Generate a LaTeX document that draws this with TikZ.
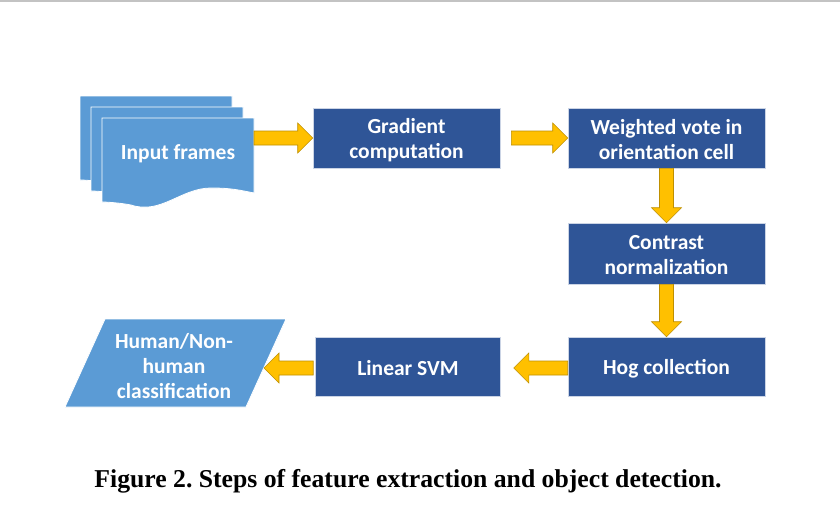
\documentclass[tikz,border=0pt]{standalone}
\usepackage{fontspec}
\setmainfont{Liberation Serif}
\newfontfamily\boxfont{Carlito}
\usetikzlibrary{calc}
\frenchspacing
\definecolor{darkbox}{HTML}{2F5597}
\definecolor{lightbox}{HTML}{5B9BD5}
\definecolor{arrowfill}{HTML}{FFC000}
\definecolor{arrowline}{HTML}{BF9000}
\definecolor{topline}{HTML}{C3C3C3}
\tikzset{
  procbox/.style={draw=white!75!darkbox, line width=0.6pt, fill=darkbox, inner sep=0pt},
  boxtext/.style={text=white, font=\boxfont\fontsize{21.5}{25}\selectfont\bfseries, align=center, inner sep=0pt},
  lightshape/.style={fill=lightbox, draw=white, line width=0.8pt},
  barrow/.style={fill=arrowfill, draw=arrowline, line width=0.6pt, line join=miter},
}
\newcommand\arrowright[2]{\draw[barrow] let \p1=(#1), \p2=(#2) in
  (\x1,\y1+7pt) -- (\x2-15pt,\y1+7pt) -- (\x2-15pt,\y1+15pt) -- (\x2,\y1) --
  (\x2-15pt,\y1-15pt) -- (\x2-15pt,\y1-7pt) -- (\x1,\y1-7pt) -- cycle;}
\newcommand\arrowleft[2]{\draw[barrow] let \p1=(#1), \p2=(#2) in
  (\x1,\y1+7pt) -- (\x2+15pt,\y1+7pt) -- (\x2+15pt,\y1+15pt) -- (\x2,\y1) --
  (\x2+15pt,\y1-15pt) -- (\x2+15pt,\y1-7pt) -- (\x1,\y1-7pt) -- cycle;}
\newcommand\arrowdown[2]{\draw[barrow] let \p1=(#1), \p2=(#2) in
  (\x1-7pt,\y1) -- (\x1-7pt,\y2+15pt) -- (\x1-15pt,\y2+15pt) -- (\x1,\y2) --
  (\x1+15pt,\y2+15pt) -- (\x1+7pt,\y2+15pt) -- (\x1+7pt,\y1) -- cycle;}
\newcommand\docshape[2]{%
  \draw[lightshape] (#1,#2) -- ++(152,0) -- ++(0,75)
    .. controls ++(-15,-3) and ++(20,0) .. ++(-43,-5)
    .. controls ++(-30,0) and ++(30,10) .. ++(-80,17)
    .. controls ++(-10,-2) and ++(5,0) .. ++(-29,-3) -- cycle;}
\begin{document}
\begin{tikzpicture}[x=1pt, y=-1pt]
\useasboundingbox (0,0) rectangle (840,530);
\fill[white] (0,0) rectangle (840,530);
\draw[topline, line width=1.5pt] (0,0.75) -- (840,0.75);

% Input frames (multi-document)
\docshape{80}{96}
\docshape{91}{107}
\docshape{102}{118}
\node[boxtext] (inp) at (178,153.5) {Input frames};
\coordinate (inpE) at (254,138);

% process boxes
\node[procbox, minimum width=187pt, minimum height=60pt] (grad) at (406.5,138) {};
\node[procbox, minimum width=197pt, minimum height=60pt] (vote) at (666.5,138) {};
\node[procbox, minimum width=197pt, minimum height=61pt] (contr) at (666.5,253.5) {};
\node[procbox, minimum width=197pt, minimum height=59pt] (hog) at (666.5,366.5) {};
\node[procbox, minimum width=185pt, minimum height=59pt] (svm) at (408,366.5) {};
\node[boxtext] (gradT) at ($(grad.center)+(0,2)$) {Gradient\\computation};
\node[boxtext] (voteT) at ($(vote.center)+(0,2)$) {Weighted vote in\\orientation cell};
\node[boxtext] (contrT) at ($(contr.center)+(0,2)$) {Contrast\\normalization};
\node[boxtext] (hogT) at ($(hog.center)+(0,2)$) {Hog collection};
\node[boxtext] (svmT) at ($(svm.center)+(0,2)$) {Linear SVM};

% output parallelogram
\draw[lightshape] (105,319) -- (286,319) -- (246,407) -- (65,407) -- cycle;
\node[boxtext] (cls) at (174,366) {Human/Non-\\human\\classification};
\coordinate (clsE) at (264,368);

% connectors
\arrowright{inpE}{grad.west}
\arrowright{$(grad.east)+(11,0)$}{vote.west}
\arrowdown{vote.south}{contr.north}
\arrowdown{contr.south}{hog.north}
\arrowleft{$(hog.west)+(0,1.5)$}{$(svm.east)+(13,1.5)$}
\arrowleft{$(svm.west)+(-2,1.5)$}{clsE}

% caption
\node[font=\fontsize{25.7}{30}\selectfont\bfseries, inner sep=0pt] (cap) at (408,481) {Figure 2. Steps of feature extraction and object detection.};
\end{tikzpicture}
\end{document}
